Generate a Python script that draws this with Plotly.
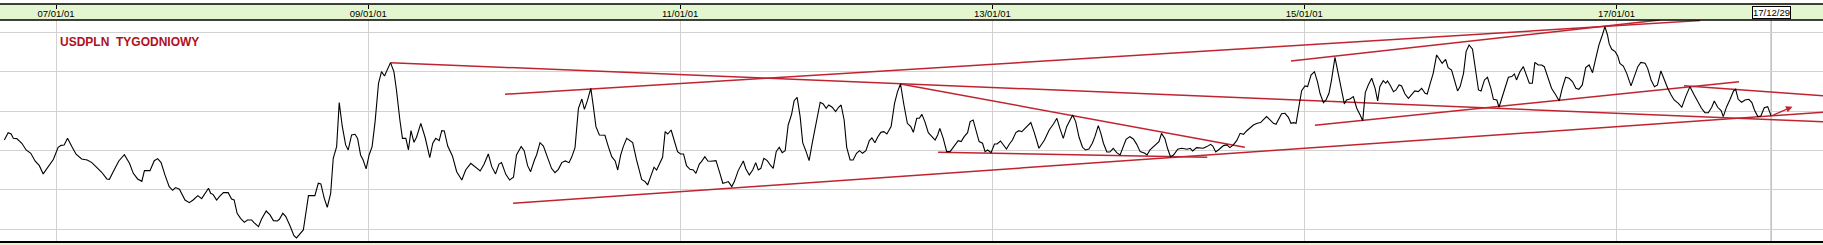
import pandas as pd
import plotly.graph_objects as go

# ---------------- data ----------------
BASE_DATE = "2007-01-01"

# day offsets from BASE_DATE of traced weekly closes
day_offsets = [
    -121, -112, -105, -100, -92, -80, -70, -59, -49, -39, -30, -18, -6, 5, 12, 19, 27, 37, 47, 60,
    73, 84, 95, 107, 119, 125, 136, 147, 160, 172, 181, 191, 201, 207, 220, 230, 238, 246, 255, 265,
    273, 280, 289, 294, 302, 312, 321, 332, 341, 357, 362, 368, 376, 384, 392, 403, 411, 417, 424, 432,
    441, 448, 458, 463, 474, 481, 492, 501, 509, 518, 523, 531, 538, 548, 557, 563,
    579, 591, 606, 614, 620, 628, 635, 643, 649, 657, 663, 670, 678, 684, 692, 700, 706, 713, 719, 726,
    733, 740, 747, 755, 762, 769, 776, 783, 791, 797, 805, 811, 819, 825, 831, 838, 844, 854, 864, 875,
    882, 889, 897, 903, 909, 917, 928, 938, 950, 959, 971, 981, 993, 1002, 1012, 1020, 1029, 1037, 1043, 1053,
    1062, 1071, 1078, 1089, 1096, 1104, 1111, 1120, 1125, 1133, 1141, 1150, 1160, 1168, 1176, 1184, 1192, 1201, 1207, 1215,
    1223, 1231, 1237, 1244, 1252,
    1258, 1264, 1272, 1285, 1293, 1301, 1309, 1315, 1322, 1328, 1336, 1342, 1350, 1359, 1371, 1379, 1385, 1392, 1400, 1406,
    1414, 1420, 1426, 1432, 1440, 1447, 1455, 1462, 1469, 1476, 1484, 1492, 1498, 1506, 1511, 1519, 1526, 1533, 1545, 1553,
    1561, 1568, 1574, 1582, 1588, 1597, 1609, 1615, 1623, 1631, 1638, 1644, 1650, 1657, 1665, 1672, 1679, 1686, 1693, 1700,
    1707, 1714, 1722, 1728, 1735, 1742, 1748, 1756, 1763, 1771, 1781, 1789, 1796, 1803, 1809, 1817, 1825, 1832, 1838, 1845,
    1851, 1859, 1866, 1874, 1881, 1888, 1896, 1904, 1910, 1917, 1924, 1931, 1938, 1945,
    1955, 1963, 1970, 1977, 1985, 1993, 2001, 2007, 2015, 2021, 2027, 2034, 2042, 2050, 2058, 2064, 2069, 2077, 2085, 2093,
    2102, 2112, 2119, 2126, 2134, 2140, 2147, 2155, 2161, 2169, 2175, 2181, 2189, 2197, 2203, 2211, 2218, 2225, 2232, 2239,
    2247, 2254, 2261, 2268, 2282, 2290, 2301, 2314, 2325, 2335, 2343, 2350, 2358, 2366, 2374, 2380, 2387, 2395, 2403, 2410,
    2418, 2426, 2432, 2440, 2446, 2452, 2460, 2467, 2475, 2483, 2491, 2497, 2505, 2514, 2522, 2530, 2538, 2549, 2554, 2561,
    2569, 2577, 2582, 2588, 2596, 2602, 2609, 2616, 2626, 2635,
    2648, 2655, 2661, 2670, 2678, 2686, 2694, 2703, 2708, 2715, 2723, 2733, 2741, 2748, 2756, 2764, 2772, 2780, 2787, 2795,
    2803, 2812, 2820, 2826, 2834, 2842, 2850, 2856, 2864, 2869, 2877, 2885, 2891, 2897, 2903, 2908, 2916, 2924, 2930, 2938,
    2946, 2953, 2959, 2967, 2973, 2980, 2986, 2994, 3002, 3008, 3016, 3021, 3029, 3037, 3045, 3053, 3059, 3065, 3072, 3080,
    3088, 3094, 3099, 3107, 3113, 3117, 3123, 3131, 3137, 3144, 3150, 3158, 3166, 3174, 3181, 3189, 3197, 3205, 3210, 3217,
    3224, 3232, 3238, 3245, 3253, 3259, 3267, 3273, 3281, 3287, 3295, 3301, 3308, 3316, 3322, 3330,
    3336, 3344, 3351, 3359, 3365, 3373, 3378, 3386, 3394, 3400, 3408, 3414, 3419, 3427, 3435, 3443, 3449, 3456, 3462, 3470,
    3478, 3484, 3492, 3501, 3511, 3519, 3526, 3534, 3542, 3550, 3558, 3565, 3573, 3581, 3589, 3597, 3604, 3612, 3620, 3626,
    3632, 3636, 3642, 3650, 3656, 3661, 3669, 3677, 3687, 3695, 3703, 3710, 3720, 3726, 3734, 3742, 3749, 3757, 3765, 3773,
    3781, 3788, 3798, 3806, 3815, 3825, 3835, 3845, 3852, 3860, 3868, 3876, 3882, 3890, 3898, 3903, 3911, 3919, 3927, 3932,
    3938, 3946, 3954, 3963, 3970, 3976, 3984, 3991, 3999, 4007, 4015,
]

usdpln = [
    2.908, 2.983, 2.969, 2.925, 2.922, 2.875, 2.807, 2.773, 2.695, 2.647, 2.563, 2.637, 2.712, 2.834, 2.854, 2.858, 2.925, 2.841, 2.763, 2.715,
    2.705, 2.678, 2.627, 2.580, 2.512, 2.508, 2.603, 2.695, 2.759, 2.671, 2.569, 2.512, 2.488, 2.597, 2.597, 2.698, 2.719, 2.678, 2.553, 2.434,
    2.397, 2.424, 2.407, 2.366, 2.298, 2.271, 2.298, 2.342, 2.312, 2.417, 2.366, 2.353, 2.298, 2.339, 2.373, 2.373, 2.308, 2.298, 2.163, 2.112,
    2.071, 2.095, 2.095, 2.071, 2.027, 2.102, 2.186, 2.146, 2.088, 2.085, 2.102, 2.163, 2.129, 2.034, 1.936, 1.912,
    1.993, 2.342, 2.342, 2.468, 2.461, 2.315, 2.224, 2.366, 2.722, 2.841, 3.288, 3.051, 2.858, 2.807, 2.959, 2.966, 2.925, 2.756, 2.705, 2.614,
    2.756, 2.841, 3.095, 3.485, 3.603, 3.559, 3.620, 3.695, 3.603, 3.417, 3.112, 2.925, 2.925, 2.807, 3.003, 2.885, 2.936, 3.078, 2.936, 2.729,
    2.875, 2.925, 2.902, 3.003, 3.000, 2.847, 2.746, 2.586, 2.502, 2.603, 2.671, 2.637, 2.593, 2.661, 2.766, 2.637, 2.563, 2.664, 2.678, 2.559,
    2.502, 2.529, 2.756, 2.841, 2.800, 2.647, 2.586, 2.705, 2.756, 2.881, 2.847, 2.739, 2.620, 2.576, 2.610, 2.678, 2.695, 2.678, 2.732, 2.831,
    3.231, 3.325, 3.220, 3.308, 3.434,
    3.247, 3.044, 2.959, 2.956, 2.841, 2.739, 2.695, 2.603, 2.756, 2.841, 2.925, 2.908, 2.881, 2.705, 2.508, 2.485, 2.451, 2.536, 2.631, 2.603,
    2.678, 2.732, 2.993, 2.969, 3.010, 2.908, 2.790, 2.766, 2.766, 2.647, 2.610, 2.603, 2.569, 2.664, 2.688, 2.739, 2.695, 2.692, 2.698, 2.586,
    2.468, 2.475, 2.485, 2.434, 2.485, 2.597, 2.695, 2.614, 2.553, 2.603, 2.678, 2.603, 2.620, 2.722, 2.698, 2.654, 2.620, 2.790, 2.834, 2.780,
    2.800, 3.061, 3.169, 3.308, 3.342, 3.146, 2.881, 2.790, 2.698, 2.892, 3.095, 3.292, 3.275, 3.231, 3.264, 3.241, 3.197, 3.241, 3.264, 3.112,
    2.834, 2.705, 2.705, 2.773, 2.800, 2.773, 2.800, 2.902, 2.929, 2.881, 2.942, 2.986, 2.993, 2.969,
    3.044, 3.281, 3.400, 3.478, 3.264, 3.078, 3.044, 2.986, 3.129, 3.129, 3.169, 3.095, 2.983, 2.942, 2.908, 2.959, 3.027, 2.925, 2.790, 2.790,
    2.847, 2.902, 2.892, 2.942, 2.983, 3.095, 3.112, 2.976, 2.892, 2.875, 2.790, 2.807, 2.780, 2.868, 2.868, 2.898, 2.858, 2.817, 2.868, 2.908,
    2.983, 3.003, 2.993, 3.027, 3.085, 2.986, 2.824, 2.908, 3.010, 3.071, 3.129, 3.027, 2.925, 3.044, 3.112, 3.163, 3.095, 2.936, 2.834, 2.807,
    2.817, 2.875, 2.942, 3.054, 2.976, 2.875, 2.786, 2.786, 2.824, 2.780, 2.756, 2.834, 2.915, 2.942, 2.919, 2.864, 2.790, 2.773, 2.756, 2.807,
    2.841, 2.881, 2.892, 2.976, 2.922, 2.824, 2.739, 2.756, 2.814, 2.824,
    2.814, 2.824, 2.797, 2.831, 2.831, 2.824, 2.841, 2.864, 2.847, 2.786, 2.814, 2.851, 2.858, 2.831, 2.858, 2.902, 2.976, 2.966, 3.000, 3.027,
    3.061, 3.078, 3.085, 3.112, 3.146, 3.112, 3.078, 3.068, 3.139, 3.176, 3.180, 3.139, 3.078, 3.085, 3.078, 3.197, 3.410, 3.458, 3.451, 3.569,
    3.603, 3.502, 3.383, 3.288, 3.315, 3.383, 3.519, 3.749, 3.586, 3.434, 3.275, 3.315, 3.325, 3.349, 3.231, 3.163, 3.105, 3.390, 3.468, 3.536,
    3.434, 3.305, 3.451, 3.512, 3.485, 3.508, 3.468, 3.400, 3.417, 3.468, 3.458, 3.376, 3.332, 3.373, 3.407, 3.400, 3.434, 3.383, 3.376, 3.485,
    3.586, 3.773, 3.729, 3.688, 3.729, 3.644, 3.620, 3.519, 3.407, 3.451, 3.586, 3.807, 3.875, 3.831, 3.654, 3.417,
    3.407, 3.519, 3.546, 3.434, 3.322, 3.315, 3.241, 3.349, 3.451, 3.546, 3.553, 3.580, 3.519, 3.603, 3.654, 3.546, 3.485, 3.485, 3.698, 3.671,
    3.671, 3.654, 3.546, 3.434, 3.366, 3.305, 3.434, 3.546, 3.536, 3.502, 3.434, 3.424, 3.468, 3.644, 3.671, 3.593, 3.729, 3.875, 3.976, 4.061,
    3.976, 3.885, 3.831, 3.807, 3.763, 3.688, 3.661, 3.586, 3.458, 3.553, 3.654, 3.698, 3.688, 3.637, 3.519, 3.451, 3.468, 3.610, 3.519, 3.434,
    3.366, 3.315, 3.281, 3.241, 3.349, 3.451, 3.366, 3.288, 3.231, 3.186, 3.186, 3.241, 3.305, 3.241, 3.207, 3.146, 3.247, 3.322, 3.407, 3.424,
    3.322, 3.292, 3.315, 3.322, 3.288, 3.214, 3.146, 3.153, 3.237, 3.247, 3.153,
]

tick_dates = ["2007-01-01", "2009-01-01", "2011-01-01", "2013-01-01", "2015-01-01", "2017-01-01"]
tick_labels = ["07/01/01", "09/01/01", "11/01/01", "13/01/01", "15/01/01", "17/01/01"]
last_label = "17/12/29"
grid_values = [2.0, 2.4, 2.8, 3.2, 3.6, 4.0]
chart_title = "USDPLN\u00a0\u00a0TYGODNIOWY"

# trend lines drawn on the chart (day offset, value) -> (day offset, value)
trend_start_days = [783, 1051, 2891, 1977, 2065, 1070, 2947, 3811]
trend_start_vals = [3.695, 3.373, 3.712, 3.478, 2.783, 2.264, 3.058, 3.460]
trend_end_days = [4137, 3849, 3755, 2783, 2695, 4137, 3940, 4137]
trend_end_vals = [3.094, 4.123, 4.129, 2.834, 2.732, 3.190, 3.501, 3.359]

# projection arrow target
arrow_day = 4065
arrow_val = 3.247

# visible window
x_start_day = -131.1
x_end_day = 4136.5
y_min, y_max = 1.8708, 4.1286

# ---------------- build ----------------
base = pd.Timestamp(BASE_DATE)
dates = base + pd.to_timedelta(day_offsets, unit="D")

RED = "#c02430"
GREEN = "#e4f6cf"
FONT = "Liberation Sans, Arial, sans-serif"

tx, ty = [], []
for sd, sv, ed, ev in zip(trend_start_days, trend_start_vals, trend_end_days, trend_end_vals):
    tx += [base + pd.Timedelta(days=sd), base + pd.Timedelta(days=ed), None]
    ty += [sv, ev, None]

fig = go.Figure()
fig.add_trace(go.Scatter(x=tx, y=ty, mode="lines", line=dict(color=RED, width=1.5),
                         hoverinfo="skip", connectgaps=False))
fig.add_trace(go.Scatter(x=dates, y=usdpln, mode="lines", line=dict(color="black", width=1.1)))

plot_top = 222 / 238  # top of plotting area in paper units (band above)

fig.update_layout(
    width=1823, height=245,
    margin=dict(l=0, r=0, t=4, b=3, autoexpand=False),
    plot_bgcolor="white", paper_bgcolor="white",
    showlegend=False,
    xaxis=dict(
        type="date",
        range=[base + pd.Timedelta(days=x_start_day), base + pd.Timedelta(days=x_end_day)],
        side="top", anchor="free", position=1,
        tickmode="array", tickvals=tick_dates, ticktext=tick_labels,
        ticks="inside", ticklen=4, tickcolor="black", tickwidth=1,
        ticklabelposition="inside",
        tickfont=dict(family=FONT, size=9.5, color="black"),
        showgrid=True, gridcolor="#d2d2d2", gridwidth=1,
        showline=False, zeroline=False, automargin=False,
    ),
    yaxis=dict(
        domain=[0, plot_top], range=[y_min, y_max],
        tickmode="array", tickvals=grid_values,
        showticklabels=False, ticks="",
        showgrid=True, gridcolor="#d2d2d2", gridwidth=1,
        zeroline=False, showline=False, automargin=False,
    ),
    shapes=[
        dict(type="rect", xref="paper", yref="paper", x0=0, x1=1, y0=plot_top, y1=1,
             fillcolor=GREEN, line=dict(width=0), layer="below"),
        dict(type="rect", xref="paper", yref="paper", x0=0, x1=1, y0=-3 / 238, y1=0,
             fillcolor=GREEN, line=dict(width=0), layer="below"),
        dict(type="line", xref="paper", yref="paper", x0=0, x1=1, y0=1, y1=1,
             line=dict(color="black", width=1.5)),
        dict(type="line", xref="paper", yref="paper", x0=0, x1=1, y0=plot_top, y1=plot_top,
             line=dict(color="black", width=1.5)),
        dict(type="line", xref="paper", yref="paper", x0=0, x1=1, y0=0, y1=0,
             line=dict(color="black", width=2)),
        dict(type="line", xref="x", yref="paper", x0=dates[-1], x1=dates[-1], y0=0, y1=plot_top,
             line=dict(color="#9c9c9c", width=1), layer="below"),
    ],
    annotations=[
        dict(text=chart_title, xref="paper", yref="paper", x=57.5 / 1823, y=(242 - 41.7) / 238,
             xanchor="left", yanchor="middle", showarrow=False,
             font=dict(family=FONT, size=12, color="#b0101c", weight="bold")),
        dict(text=last_label, xref="x", yref="paper", x=dates[-1], y=(242 - 13.0) / 238,
             xanchor="center", yanchor="middle", showarrow=False,
             bgcolor="white", bordercolor="black", borderwidth=1, borderpad=0,
             font=dict(family=FONT, size=9.5, color="black")),
        dict(text="", x=base + pd.Timedelta(days=arrow_day), y=arrow_val, xref="x", yref="y",
             ax=dates[-1], ay=usdpln[-1], axref="x", ayref="y",
             showarrow=True, arrowhead=2, arrowsize=1, arrowwidth=1.3, arrowcolor=RED),
    ],
)

fig.write_html("out.html")
